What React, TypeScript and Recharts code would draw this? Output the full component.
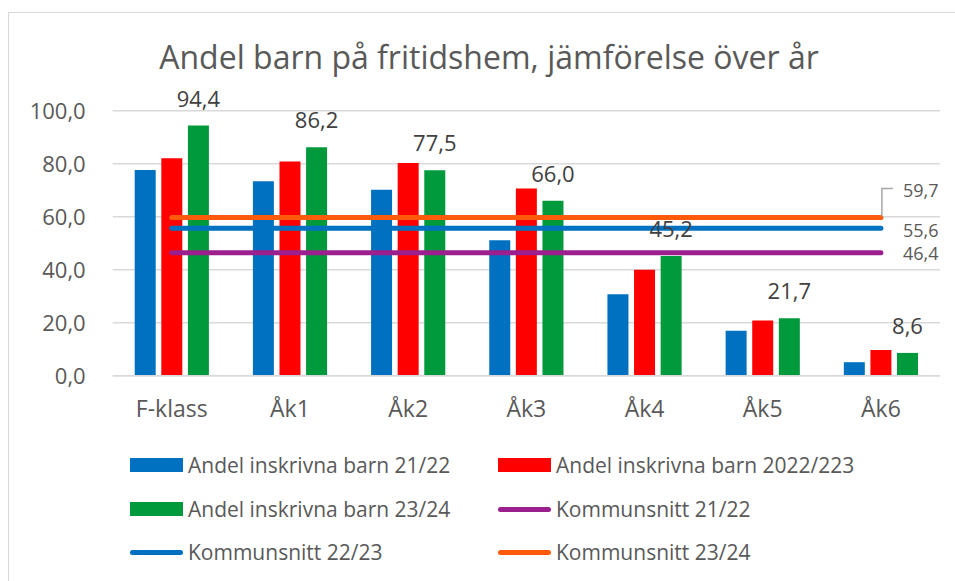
import React from 'react';
import { ComposedChart, Bar, Line, XAxis, YAxis, CartesianGrid, LabelList, Legend } from 'recharts';

const categories = ['F-klass', 'Åk1', 'Åk2', 'Åk3', 'Åk4', 'Åk5', 'Åk6'];
const andel2122 = [77.6, 73.4, 70.2, 51.1, 30.7, 17.0, 5.1];
const andel2223 = [82.1, 80.8, 80.3, 70.6, 40.0, 20.8, 9.7];
const andel2324 = [94.4, 86.2, 77.5, 66.0, 45.2, 21.7, 8.6];
const kommun2122 = [46.4, 46.4, 46.4, 46.4, 46.4, 46.4, 46.4];
const kommun2223 = [55.6, 55.6, 55.6, 55.6, 55.6, 55.6, 55.6];
const kommun2324 = [59.7, 59.7, 59.7, 59.7, 59.7, 59.7, 59.7];
const yTicks = [0, 20, 40, 60, 80, 100];

const title = 'Andel barn på fritidshem, jämförelse över år';

const seriesNames = [
  'Andel inskrivna barn 21/22',
  'Andel inskrivna barn 2022/223',
  'Andel inskrivna barn 23/24',
  'Kommunsnitt 21/22',
  'Kommunsnitt 22/23',
  'Kommunsnitt 23/24',
];

const C_BLUE = '#0070C0';
const C_RED = '#FF0000';
const C_GREEN = '#009A3D';
const C_PURPLE = '#9C1F8E';
const C_LBLUE = '#0070C0';
const C_ORANGE = '#FF5B0A';
const TEXT = '#595959';
const GRID = '#D9D9D9';
const FONT = '"Open Sans", sans-serif';

const data = categories.map((c, i) => ({
  cat: c,
  a: andel2122[i],
  b: andel2223[i],
  g: andel2324[i],
  k1: kommun2122[i],
  k2: kommun2223[i],
  k3: kommun2324[i],
}));

const fmt = (v: number) => v.toFixed(1).replace('.', ',');

const legendItems = [
  { name: seriesNames[0], color: C_BLUE, type: 'rect' },
  { name: seriesNames[1], color: C_RED, type: 'rect' },
  { name: seriesNames[2], color: C_GREEN, type: 'rect' },
  { name: seriesNames[3], color: C_PURPLE, type: 'line' },
  { name: seriesNames[4], color: C_LBLUE, type: 'line' },
  { name: seriesNames[5], color: C_ORANGE, type: 'line' },
];

const LegendContent = () => {
  const colX = [130, 498];
  const rowY = [25, 69, 112];
  return (
    <div style={{ position: 'relative', width: 955, height: 141 }}>
      {legendItems.map((it, i) => {
        const col = i % 2;
        const row = Math.floor(i / 2);
        const x = colX[col];
        const y = rowY[row];
        return (
          <div key={i} style={{ position: 'absolute', left: x, top: y - 15, height: 30, display: 'flex', alignItems: 'center', whiteSpace: 'nowrap' }}>
            {it.type === 'rect' ? (
              <div style={{ width: 53, height: 14, background: it.color, marginRight: 5 }} />
            ) : (
              <div style={{ width: 53, height: 5, borderRadius: 3, background: it.color, marginRight: 5 }} />
            )}
            <span style={{ fontFamily: FONT, fontSize: 21, color: TEXT }}>{it.name}</span>
          </div>
        );
      })}
    </div>
  );
};

const makeEndLabel = (kind: string) => (props: any) => {
  const { x, y, index, value } = props;
  if (index !== categories.length - 1) return null;
  const tx = Number(x) + 22;
  const ty = Number(y);
  if (kind === 'top') {
    return (
      <g>
        <path d={`M ${x + 1} ${ty - 1} V ${ty - 29} H ${x + 12}`} stroke="#A6A6A6" strokeWidth={1.5} fill="none" />
        <text x={tx} y={ty - 27} dominantBaseline="central" fontFamily={FONT} fontSize={18} fill={TEXT}>{fmt(Number(value))}</text>
      </g>
    );
  }
  return (
    <text x={tx} y={ty + (kind === 'mid' ? 2 : 0)} dominantBaseline="central" fontFamily={FONT} fontSize={18} fill={TEXT}>{fmt(Number(value))}</text>
  );
};

const GreenLabel = (props: any) => {
  const { x, y, width, value } = props;
  return (
    <text x={Number(x) + Number(width) / 2} y={Number(y) - 19} textAnchor="middle" fontFamily={FONT} fontSize={22} fill="#404040">{fmt(Number(value))}</text>
  );
};

export default function App() {
  return (
    <div style={{ position: 'absolute', left: 0, top: 0, width: 955, height: 581, background: '#fff' }}>
      <div style={{ position: 'absolute', left: 8, top: 12, width: 1000, height: 700, border: `1.5px solid ${GRID}`, boxSizing: 'border-box' }} />
      <svg width={955} height={581} style={{ position: 'absolute', left: 0, top: 0 }}>
        <text x={489} y={69} textAnchor="middle" fontFamily={FONT} fontSize={32} fill={TEXT}>{title}</text>
      </svg>
      <div style={{ position: 'absolute', left: 0, top: 0 }}>
        <ComposedChart
          width={955}
          height={581}
          data={data}
          margin={{ top: 110.7, right: 15, bottom: 175.3, left: 0 }}
          barGap={5.6}
          barSize={21}
        >
          <CartesianGrid horizontal vertical={false} stroke={GRID} strokeWidth={1.5} />
          <XAxis
            dataKey="cat"
            height={30}
            axisLine={{ stroke: GRID, strokeWidth: 1.5 }}
            tickLine={false}
            tickSize={0}
            tickMargin={25}
            tick={{ fontFamily: FONT, fontSize: 23, fill: TEXT }}
            interval={0}
          />
          <YAxis
            width={112.7}
            domain={[0, 100]}
            ticks={yTicks}
            axisLine={false}
            tickLine={false}
            tickSize={0}
            tickMargin={27}
            tickFormatter={(v: number) => fmt(v)}
            tick={{ fontFamily: FONT, fontSize: 22, fill: TEXT }}
          />
          <Bar dataKey="a" name={seriesNames[0]} fill={C_BLUE} isAnimationActive={false} />
          <Bar dataKey="b" name={seriesNames[1]} fill={C_RED} isAnimationActive={false} />
          <Bar dataKey="g" name={seriesNames[2]} fill={C_GREEN} isAnimationActive={false}>
            <LabelList dataKey="g" content={GreenLabel} />
          </Bar>
          <Line dataKey="k1" name={seriesNames[3]} stroke={C_PURPLE} strokeWidth={5} strokeLinecap="round" dot={false} activeDot={false} isAnimationActive={false}>
            <LabelList dataKey="k1" content={makeEndLabel('low')} />
          </Line>
          <Line dataKey="k2" name={seriesNames[4]} stroke={C_LBLUE} strokeWidth={5} strokeLinecap="round" dot={false} activeDot={false} isAnimationActive={false}>
            <LabelList dataKey="k2" content={makeEndLabel('mid')} />
          </Line>
          <Line dataKey="k3" name={seriesNames[5]} stroke={C_ORANGE} strokeWidth={5} strokeLinecap="round" dot={false} activeDot={false} isAnimationActive={false}>
            <LabelList dataKey="k3" content={makeEndLabel('top')} />
          </Line>
          <Legend
            layout="vertical"
            align="center"
            verticalAlign="middle"
            wrapperStyle={{ left: 0, top: 440, width: 955, height: 141 }}
            content={LegendContent}
          />
        </ComposedChart>
      </div>
    </div>
  );
}
